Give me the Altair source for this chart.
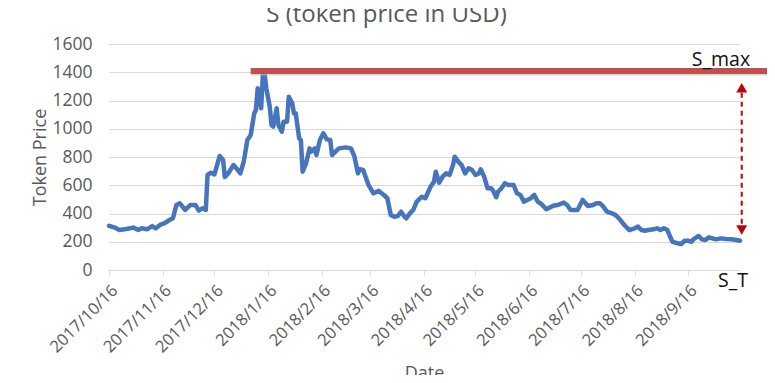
import altair as alt
import pandas as pd

# ---------------- data ----------------
START_DATE = "2017-10-16"
day_offsets = [0, 3, 6, 10, 14, 17, 19, 22, 25, 27,
               30, 32, 35, 37, 39, 41, 44, 47, 50, 52,
               54, 56, 57, 59, 61, 64, 66, 67, 69, 72,
               74, 76, 78, 80, 82, 84, 85, 86, 87, 88,
               89, 90, 91, 93, 94, 95, 97, 98, 100, 101,
               103, 104, 106, 107, 108, 110, 111, 112, 114, 116,
               117, 119, 120, 122, 124, 126, 128, 129, 131, 133,
               137, 140, 142, 144, 145, 147, 150, 153, 156, 159,
               161, 163, 165, 167, 169, 171, 172, 174, 176, 178,
               181, 183, 186, 188, 189, 191, 193, 195, 197, 199,
               200, 202, 204, 206, 208, 210, 212, 214, 215, 217,
               219, 221, 222, 224, 225, 227, 229, 231, 234, 236,
               238, 240, 242, 244, 246, 248, 250, 253, 257, 260,
               263, 265, 267, 271, 274, 277, 280, 282, 284, 286,
               288, 291, 293, 295, 298, 301, 304, 306, 308, 310,
               312, 315, 317, 319, 321, 323, 325, 326, 329, 331,
               333, 335, 337, 338, 341, 343, 345, 347, 349, 351,
               354, 357, 360, 363, 365]
prices = [313, 302, 283, 290, 300, 283, 295, 288, 311, 295,
          323, 330, 354, 366, 460, 472, 425, 460, 460, 420,
          437, 425, 673, 689, 677, 807, 779, 658, 684, 743,
          715, 684, 770, 920, 956, 1109, 1133, 1286, 1251, 1145,
          1380, 1392, 1286, 1156, 1027, 1015, 1145, 1027, 979, 1050,
          1050, 1227, 1180, 1109, 1109, 932, 920, 696, 755, 861,
          838, 861, 814, 920, 968, 925, 920, 814, 838, 861,
          868, 861, 802, 684, 714, 708, 605, 543, 560, 531,
          508, 389, 377, 382, 413, 377, 366, 401, 425, 484,
          519, 508, 590, 625, 696, 618, 661, 684, 673, 743,
          802, 767, 743, 684, 720, 708, 673, 684, 713, 661,
          578, 578, 566, 515, 554, 578, 614, 602, 602, 543,
          531, 484, 496, 508, 531, 484, 468, 430, 455, 462,
          477, 460, 425, 425, 496, 453, 460, 472, 472, 448,
          413, 401, 389, 366, 319, 283, 295, 307, 283, 278,
          283, 288, 295, 283, 295, 283, 224, 200, 189, 184,
          207, 207, 200, 217, 241, 217, 212, 231, 224, 217,
          224, 219, 217, 212, 207]

tick_dates = ["2017-10-16", "2017-11-16", "2017-12-16", "2018-01-16",
              "2018-02-16", "2018-03-16", "2018-04-16", "2018-05-16",
              "2018-06-16", "2018-07-16", "2018-08-16", "2018-09-16"]
axis_start = "2017-10-16"
axis_end = "2018-10-16"
y_ticks = [0, 200, 400, 600, 800, 1000, 1200, 1400, 1600]

# annotations
smax_value = 1409
smax_start = "2018-01-06"
smax_end = "2018-11-05"
arrow_date = "2018-10-17"
arrow_top = 1290
arrow_bottom = 283
dash_top = 1255
dash_bottom = 318
labels_text = ["S_max", "S_T"]
labels_date = ["2018-10-05", "2018-10-12"]
labels_value = [1444, -120]

TITLE = "S (token price in USD)"
FONT = "Open Sans"
GREY = "#595959"
GRID = "#D9D9D9"


def dt(s):
    y, m, d = (int(v) for v in s.split("-"))
    return alt.DateTime(year=y, month=m, date=d)


def ts(s):
    return pd.Timestamp(s)


df = pd.DataFrame({
    "date": pd.Timestamp(START_DATE) + pd.to_timedelta(day_offsets, unit="D"),
    "price": prices,
})

x_scale = alt.Scale(domain=[dt(axis_start), dt(axis_end)])
y_scale = alt.Scale(domain=[0, 1600], nice=False)

x_axis = alt.Axis(
    values=[dt(d) for d in tick_dates], format="%Y/%-m/%-d", labelAngle=-45,
    labelFont=FONT, labelFontSize=16.5, labelColor=GREY, labelPadding=7,
    labelOverlap=False, labelFlush=False, labelBound=False,
    domainColor=GRID, domainWidth=1, tickColor=GRID, tickSize=5, grid=False,
    title="Date", titleFont=FONT, titleFontSize=18, titleColor=GREY,
    titleFontWeight="normal", titleX=315, titleY=108, titleBaseline="alphabetic",
    titleAnchor="middle", titleAlign="center",
)
y_axis = alt.Axis(
    values=y_ticks, format="d", labelFont=FONT, labelFontSize=17.5, labelColor=GREY,
    labelPadding=17, domain=False, ticks=False, grid=True, gridColor=GRID,
    gridWidth=1, title="Token Price", titleFont=FONT, titleFontSize=18,
    titleColor=GREY, titleFontWeight="normal", titleX=-64, titleY=113,
    titleBaseline="alphabetic", titleAlign="center", titleAngle=-90,
)


def X(field):
    return alt.X(field, scale=x_scale, axis=x_axis)


def Y(field):
    return alt.Y(field, scale=y_scale, axis=y_axis)


line = alt.Chart(df).mark_line(
    color="#4675BE", strokeWidth=4.5, strokeJoin="round", strokeCap="round"
).encode(x=X("date:T"), y=Y("price:Q"))

smax_df = pd.DataFrame({"start": [ts(smax_start)], "end": [ts(smax_end)],
                        "v": [smax_value], "vs": [smax_value - 11]})
smax_shadow = alt.Chart(smax_df).mark_rule(
    color="#BFBFBF", strokeWidth=6, opacity=0.6, clip=False
).encode(x=X("start:T"), x2="end:T", y=Y("vs:Q"))
smax_line = alt.Chart(smax_df).mark_rule(
    color="#C0504D", strokeWidth=6, clip=False
).encode(x=X("start:T"), x2="end:T", y=Y("v:Q"))

dash_df = pd.DataFrame({"date": [ts(arrow_date)], "top": [dash_top], "bottom": [dash_bottom]})
dash = alt.Chart(dash_df).mark_rule(
    color="#C00000", strokeWidth=2, strokeDash=[5, 4], clip=False
).encode(x=X("date:T"), y=Y("top:Q"), y2="bottom:Q")

heads_df = pd.DataFrame({
    "date": [ts(arrow_date), ts(arrow_date)],
    "v": [arrow_top, arrow_bottom],
    "shape": ["triangle-up", "triangle-down"],
})
heads = alt.Chart(heads_df).mark_point(
    filled=True, size=120, color="#C00000", opacity=1, clip=False
).encode(x=X("date:T"), y=Y("v:Q"), shape=alt.Shape("shape:N", scale=None))

txt_df = pd.DataFrame({"date": [ts(d) for d in labels_date], "v": labels_value,
                       "label": labels_text})
texts = alt.Chart(txt_df).mark_text(
    font=FONT, fontSize=19.5, color="#111111", align="center",
    baseline="alphabetic", clip=False
).encode(x=X("date:T"), y=Y("v:Q"), text="label:N")

chart = alt.layer(line, smax_shadow, smax_line, dash, heads, texts).properties(
    width=631, height=226,
    padding={"left": 101, "top": 36, "right": 27, "bottom": 105},
    autosize=alt.AutoSizeParams(type="none"),
    title=alt.TitleParams(
        TITLE, font=FONT, fontSize=24, color=GREY, fontWeight="normal",
        anchor="middle", dx=-38, dy=25, offset=14, baseline="alphabetic",
    ),
).configure_view(stroke=None)

chart.save("out.html", embed_options={"renderer": "svg", "actions": False})
